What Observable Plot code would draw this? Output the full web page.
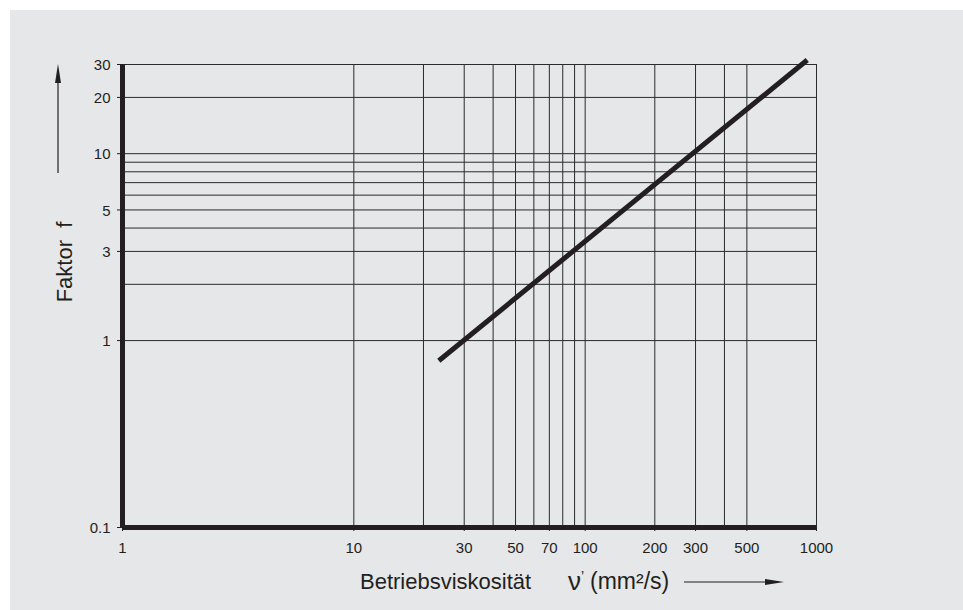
<!DOCTYPE html>
<html>
<head>
<meta charset="utf-8">
<script src="https://cdn.jsdelivr.net/npm/d3@7"></script>
<script src="https://cdn.jsdelivr.net/npm/@observablehq/plot@0.6"></script>
<style>
  html, body { margin: 0; padding: 0; background: #ffffff; }
  #panel { position: absolute; left: 10px; top: 10px; width: 953px; height: 600px; background: #e6e7e9; overflow: hidden; }
  #panel svg { position: absolute; left: 0; top: 0; }
  #overlay { pointer-events: none; }
  #overlay text { font-family: "Liberation Sans", Arial, sans-serif; fill: #231f20; white-space: pre; }
</style>
</head>
<body>
<div id="panel"></div>
<script>
// Data
const viscosity = [23.3, 912];          // Betriebsviskosität ν (mm²/s)
const factor = [0.78, 31.7];            // Faktor f
const xGrid = [10, 20, 30, 40, 50, 60, 70, 80, 90, 100, 200, 300, 400, 500, 1000];
const yGrid = [1, 2, 3, 4, 5, 6, 7, 8, 9, 10, 20, 30];
const xTicks = [1, 10, 30, 50, 70, 100, 200, 300, 500, 1000];
const xTickLabels = ["1", "10", "30", "50", "70", "100", "200", "300", "500", "1000"];
const yTicks = [0.1, 1, 3, 5, 10, 20, 30];
const yTickLabels = ["0.1", "1", "3", "5", "10", "20", "30"];

const curve = viscosity.map((v, i) => ({v, f: factor[i]}));
const ink = "#231f20";
const font = "'Liberation Sans', Arial, sans-serif";

const chart = Plot.plot({
  width: 953,
  height: 600,
  marginLeft: 112,
  marginRight: 147,
  marginTop: 54,
  marginBottom: 83,
  style: {background: "transparent", color: ink, fontFamily: font},
  x: {type: "log", domain: [1, 1000]},
  y: {type: "log", domain: [0.1, 30]},
  marks: [
    Plot.ruleX(xGrid, {stroke: "#2b2b2b", strokeWidth: 1}),
    Plot.ruleY(yGrid, {stroke: "#2b2b2b", strokeWidth: 1}),
    Plot.line(curve, {x: "v", y: "f", stroke: ink, strokeWidth: 5, strokeLinecap: "butt"}),
    Plot.ruleX([1], {stroke: ink, strokeWidth: 5}),
    Plot.ruleY([0.1], {stroke: ink, strokeWidth: 5}),
    Plot.axisY({ticks: yTicks, tickFormat: () => "", tickSize: 5, label: null, stroke: ink}),
    Plot.axisX({ticks: xTicks, tickFormat: () => "", tickSize: 4, label: null, stroke: ink}),
    Plot.text(yTicks, {y: d => d, text: (d, i) => yTickLabels[i], frameAnchor: "left", textAnchor: "end", dx: -12, dy: 1, fontSize: 15, fill: ink}),
    Plot.text(xTicks, {x: d => d, text: (d, i) => xTickLabels[i], frameAnchor: "bottom", lineAnchor: "top", dy: 15, fontSize: 15, fill: ink})
  ]
});
const panel = document.getElementById("panel");
panel.appendChild(chart);

// Axis titles and arrows
const ns = "http://www.w3.org/2000/svg";
const ov = document.createElementNS(ns, "svg");
ov.setAttribute("id", "overlay");
ov.setAttribute("width", 953);
ov.setAttribute("height", 600);
ov.innerHTML = `
  <text transform="translate(62,252) rotate(-90)" text-anchor="middle" font-size="22">Faktor\u00a0 f</text>
  <line x1="48" y1="163" x2="48" y2="70" stroke="${ink}" stroke-width="1.2"/>
  <polygon points="48,54 45,73 51,73" fill="${ink}"/>
  <text x="350" y="579" font-size="22">Betriebsviskosität</text>
  <text x="558" y="580" font-size="26">ν</text>
  <text x="571" y="571" font-size="14">’</text>
  <text x="580" y="579" font-size="23">(mm²/s)</text>
  <line x1="674" y1="572" x2="758" y2="572" stroke="${ink}" stroke-width="1.2"/>
  <polygon points="774,572 755,569 755,575" fill="${ink}"/>
`;
panel.appendChild(ov);
</script>
</body>
</html>
